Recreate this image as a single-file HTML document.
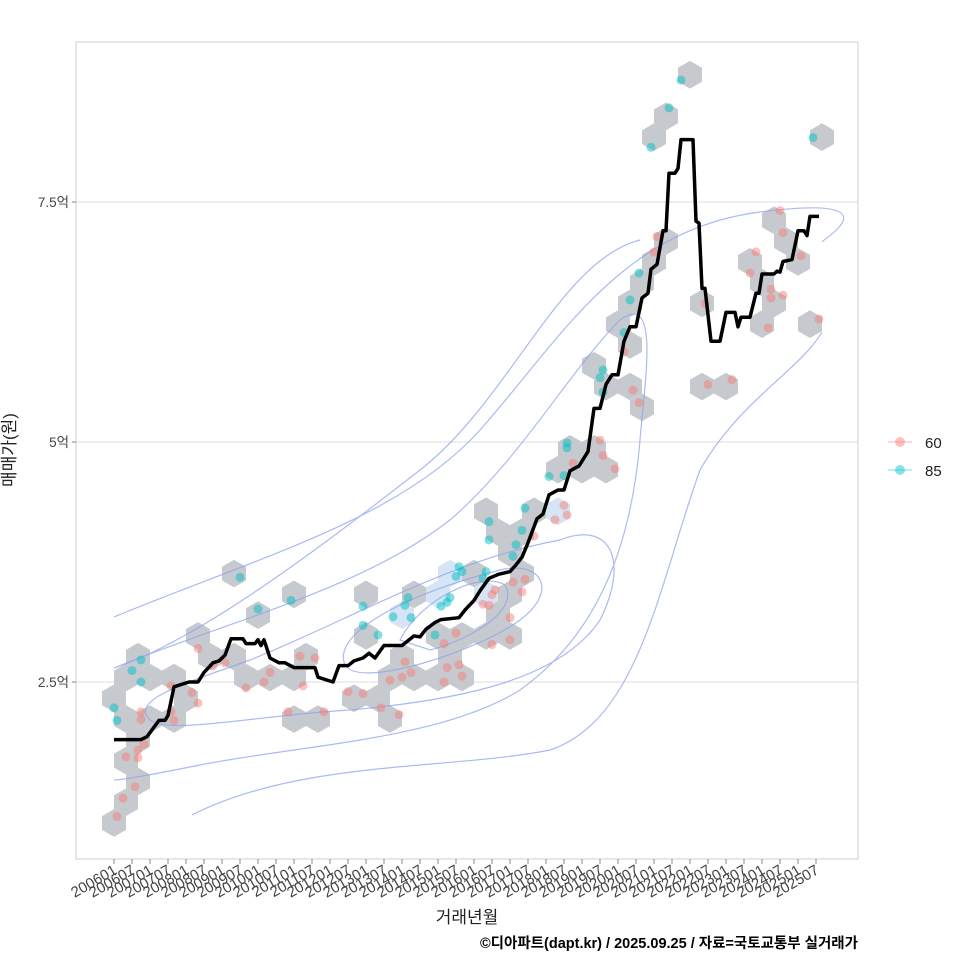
<!DOCTYPE html>
<html><head><meta charset="utf-8"><style>
body{margin:0;background:#fff;width:960px;height:960px;overflow:hidden}
svg text{font-family:"Liberation Sans","Noto Sans CJK KR",sans-serif}
</style></head><body>
<svg id="chart" width="960" height="960">
<rect x="76" y="42" width="782" height="817" fill="#fff" stroke="#ccc" stroke-width="1"/>
<g id="grid"></g>
<g id="hexes"></g>
<g id="contours" fill="none" stroke="#8fa3ee" stroke-width="1.2" opacity="0.75">
<path d="M114,617 C250,560 400,520 480,430 S620,230 760,212 S822,240 822,242"/>
<path d="M114,668 C230,620 360,590 450,520 C520,460 570,370 620,320 C660,290 645,380 640,440 C630,560 590,640 520,690 C440,740 300,745 200,765 C150,775 120,780 114,780"/>
<path d="M192,815 C300,760 450,770 550,750 C640,720 660,580 700,470 C740,400 800,370 822,332"/>
<path d="M150,720 C130,700 180,685 250,660 C350,620 450,560 560,540 C610,520 630,560 600,620 C560,680 460,700 350,710 C260,715 170,735 150,720 Z"/>
<path d="M345,665 C330,630 420,590 500,570 C540,560 560,590 520,620 C480,650 360,690 345,665 Z"/>
<path d="M400,640 C420,600 480,570 505,585 C520,610 470,640 430,650 Z"/>
<path d="M114,668 C200,640 330,540 420,470 S560,260 640,240"/>
</g>
<g id="points"></g>
<g id="line"></g>
<g id="axes"></g>
<text x="15" y="450" transform="rotate(-90 15 450)" text-anchor="middle" font-size="17" fill="#222">매매가(원)</text>
<text x="467" y="923" text-anchor="middle" font-size="17" fill="#222">거래년월</text>
<text x="858" y="948" text-anchor="end" font-size="14.5" font-weight="bold" fill="#000">©디아파트(dapt.kr) / 2025.09.25 / 자료=국토교통부 실거래가</text>
<g>
<g><line x1="888" y1="442" x2="912" y2="442" stroke="#f8766d" stroke-opacity="0.35" stroke-width="1.5"/><circle cx="900" cy="442" r="5" fill="#f8766d" fill-opacity="0.45"/><text x="925" y="448" font-size="15" fill="#222">60</text></g>
<g><line x1="888" y1="470" x2="912" y2="470" stroke="#00bfc4" stroke-opacity="0.35" stroke-width="1.5"/><circle cx="900" cy="470" r="5" fill="#00bfc4" fill-opacity="0.45"/><text x="925" y="476" font-size="15" fill="#222">85</text></g>
</g>
</svg>
<script>
// data: month index (0 = 2006-01), price in 억
const medMonths=[0,9,11,15,17,18,20,25,28,30,33,35,37,39,43,44,47,48,49,50,52,55,57,60,67,68,73,75,78,80,83,85,87,90,96,100,102,104,107,109,115,117,120,122,125,128,132,134,136,138,141,143,145,148,150,152,155,158,160,162,164,166,168,170,172,174,176,178,179,181,183,184,185,187,188,189,193,194,195,196,197,199,202,204,207,208,209,212,214,215,216,220,221,222,223,226,228,230,231,232,235];
const medValues=[1.9,1.9,1.93,2.1,2.1,2.15,2.45,2.5,2.5,2.6,2.7,2.72,2.78,2.95,2.95,2.9,2.9,2.94,2.88,2.94,2.75,2.7,2.7,2.65,2.65,2.55,2.5,2.67,2.67,2.72,2.75,2.8,2.75,2.88,2.88,2.98,2.97,3.05,3.12,3.15,3.17,3.25,3.35,3.45,3.58,3.62,3.65,3.72,3.8,3.95,4.2,4.25,4.45,4.5,4.5,4.7,4.75,4.9,5.35,5.35,5.6,5.7,5.7,6.05,6.2,6.2,6.5,6.55,6.8,6.85,7.2,7.2,7.8,7.8,7.85,8.15,8.15,7.3,7.28,6.6,6.6,6.05,6.05,6.35,6.35,6.2,6.3,6.3,6.55,6.55,6.75,6.75,6.78,6.77,6.88,6.9,7.2,7.2,7.15,7.35,7.35];
const p60Months=[1,3,7,4,8,8,10,9,9,19,20,19,26,28,28,37,33,44,50,52,58,62,63,67,70,78,83,89,92,95,96,97,99,110,110,111,114,115,116,123,125,126,127,126,132,133,137,136,132,140,147,150,151,153,162,163,167,173,175,170,180,181,197,198,206,212,214,218,219,219,223,223,222,235,229];
const p60Values=[1.10,1.29,1.41,1.72,1.71,1.79,1.85,2.11,2.19,2.46,2.10,2.19,2.39,2.28,2.85,2.70,2.67,2.44,2.50,2.60,2.19,2.77,2.46,2.75,2.19,2.40,2.38,2.23,2.52,2.16,2.55,2.71,2.60,2.90,2.50,2.65,3.01,2.68,2.56,3.31,3.30,3.41,3.46,2.89,3.17,3.54,3.57,3.44,2.94,4.02,4.19,4.34,4.24,4.78,5.02,4.86,4.72,5.54,5.41,5.94,6.98,7.14,6.44,5.60,5.65,6.76,6.98,6.19,6.59,6.50,7.18,6.53,7.41,6.28,6.94];
const p85Months=[0,1,6,9,9,42,48,59,83,83,88,93,97,98,99,107,109,111,112,114,115,116,123,124,125,125,133,134,136,137,145,150,151,151,162,163,170,172,175,179,185,189,233,163];
const p85Values=[2.23,2.10,2.62,2.73,2.50,3.59,3.26,3.35,3.29,3.09,2.99,3.18,3.30,3.38,3.17,2.99,3.29,3.33,3.38,3.60,3.70,3.65,3.58,3.65,4.17,3.98,3.81,3.93,4.08,4.31,4.64,4.65,4.94,4.99,5.67,5.52,6.14,6.48,6.76,8.07,8.48,8.77,8.17,5.75];
const yTickValues=[2.5,5,7.5];
const yTickLabels=["2.5억","5억","7.5억"];

const NS="http://www.w3.org/2000/svg";
const X=m=>114+m*3;
const Y=v=>682-(v-2.5)*96;
function mk(tag,parent,attrs){const e=document.createElementNS(NS,tag);for(const k in attrs)e.setAttribute(k,attrs[k]);parent.appendChild(e);return e;}
const grid=document.getElementById('grid'),axes=document.getElementById('axes');
yTickValues.forEach((v,i)=>{
  const gl=mk('line',grid,{x1:76,x2:858,y1:Y(v),y2:Y(v),stroke:'#ddd','stroke-width':1});
  
  
  const tk=mk('line',axes,{x1:72,x2:76,y1:Y(v),y2:Y(v),stroke:'#888'});
  
  
  const t=mk('text',axes,{x:69,y:Y(v)+5,'text-anchor':'end','font-size':13.5,fill:'#444'});
  t.textContent=yTickLabels[i];
  
  
});
for(let m=0;m<=234;m+=6){
  const yr=2006+Math.floor(m/12),mo=m%12===0?'01':'07';
  const tk=mk('line',axes,{x1:X(m),x2:X(m),y1:859,y2:864,stroke:'#888'});
  
  
  const t=mk('text',axes,{x:X(m)+4,y:873,'text-anchor':'end','font-size':15,fill:'#444',transform:`rotate(-30 ${X(m)+4} 873)`});
  t.textContent=yr+mo;
  
  
}
// hex binning
const hw=24,r=hw/Math.sqrt(3),vs=1.5*r,bins={};
function bin(px,py){
  let best=null,bd=1e9;
  const row0=Math.round((py-823)/vs);
  for(let row=row0-1;row<=row0+1;row++){
    const cy=823+row*vs,off=(((row%2)+2)%2)?hw/2:0;
    const col=Math.round((px-114-off)/hw);
    for(let c=col-1;c<=col+1;c++){const cx=114+off+c*hw;const d=(cx-px)**2+(cy-py)**2;if(d<bd){bd=d;best=[cx,cy];}}
  }
  const k=best.join(',');bins[k]=(bins[k]||0)+1;
}
p60Months.forEach((m,i)=>bin(X(m),Y(p60Values[i])));
p85Months.forEach((m,i)=>bin(X(m),Y(p85Values[i])));
const hexG=document.getElementById('hexes');
Object.keys(bins).forEach(k=>{
  const [cx,cy]=k.split(',').map(Number);
  let pts=[];for(let a=0;a<6;a++){const ang=Math.PI/180*(60*a-90);pts.push((cx+r*Math.cos(ang)).toFixed(1)+','+(cy+r*Math.sin(ang)).toFixed(1));}
  const h=mk('polygon',hexG,{points:pts.join(' '),fill:bins[k]>=3?'#d3e4f4':'#c3c7cc','fill-opacity':0.95});
  
  
});
const ptG=document.getElementById('points');
p60Months.forEach((m,i)=>{
  const c=mk('circle',ptG,{cx:X(m),cy:Y(p60Values[i]),r:4.5,fill:'#f8766d','fill-opacity':0.45});
  
  
});
p85Months.forEach((m,i)=>{
  const c=mk('circle',ptG,{cx:X(m),cy:Y(p85Values[i]),r:4.5,fill:'#00bfc4','fill-opacity':0.5});
  
  
});
const ln=mk('polyline',document.getElementById('line'),{points:medMonths.map((m,i)=>X(m)+','+Y(medValues[i])).join(' '),fill:'none',stroke:'#000','stroke-width':3.5,'stroke-linejoin':'round'});


</script>
</body></html>
